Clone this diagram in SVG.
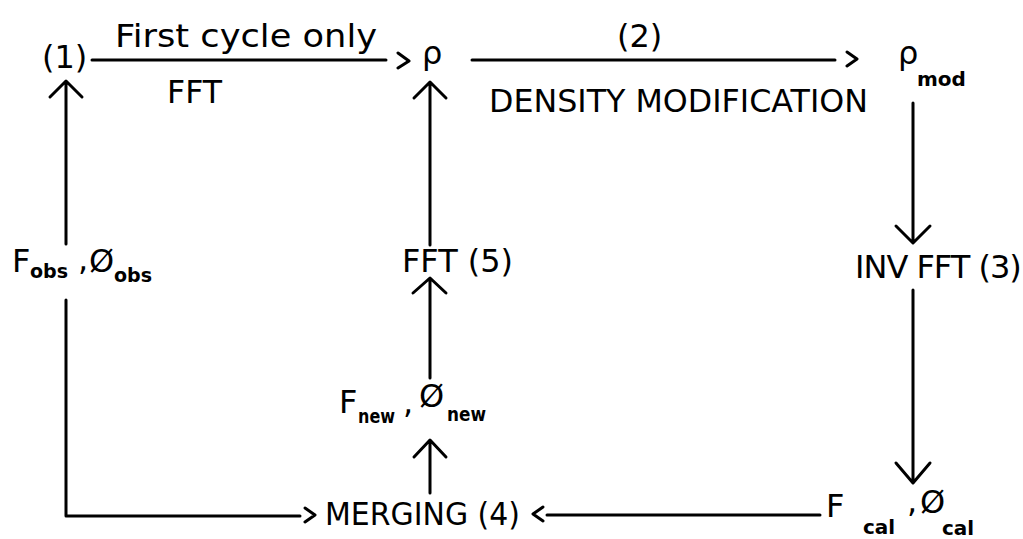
<svg xmlns="http://www.w3.org/2000/svg" width="1023" height="539" viewBox="0 0 1023 539">
<style>
.t{font-family:"DejaVu Sans","Liberation Sans",sans-serif;font-size:32px;fill:#000}
.s{font-family:"DejaVu Sans","Liberation Sans",sans-serif;font-size:20px;font-weight:bold;fill:#000}
.c{fill:none;stroke:#000;stroke-width:3;stroke-linecap:round;stroke-linejoin:round}
</style>
<rect width="1023" height="539" fill="#fff"/>
<g id="connectors" class="c">
<path d="M92 60H386M398 53L409 61L398 68"/>
<path d="M472 60H835M847 52L857 59L847 66"/>
<path d="M66 244V82M50 97L66 81L82 97"/>
<path d="M66 300V516H300M305 508L315 515L305 522"/>
<path d="M430 245V83M414 98L430 82L446 98"/>
<path d="M430 378V279M413 293L430 278L446 293"/>
<path d="M430 493V441M414 457L430 440L446 457"/>
<path d="M913 103V242M896 226L913 243L930 226"/>
<path d="M913 290V482M896 463L913 483L930 463"/>
<path d="M547 515H820M543 507L533 514L543 521"/>
</g>
<g id="n1"><text class="t" x="42" y="68" font-size="30">(1)</text></g>
<g id="label-first"><text class="t" x="115" y="47" font-size="33" textLength="262" lengthAdjust="spacingAndGlyphs">First cycle only</text>
<text class="t" x="167" y="103" textLength="55" lengthAdjust="spacingAndGlyphs">FFT</text></g>
<g id="rho"><text class="t" x="422" y="64" font-size="30">ρ</text></g>
<g id="label-dm"><text class="t" x="617" y="47" font-size="30">(2)</text>
<text class="t" x="489" y="112" font-size="33" textLength="379" lengthAdjust="spacingAndGlyphs">DENSITY MODIFICATION</text></g>
<g id="rhomod"><text class="t" x="898" y="64" font-size="28">ρ</text><text class="s" x="917" y="86">mod</text></g>
<g id="inv"><text class="t" x="855" y="278" font-size="31" letter-spacing="-1">INV FFT (3)</text></g>
<g id="fcal"><text class="t" x="826" y="517" font-size="29">F</text><text class="s" x="863" y="534">cal</text><text class="t" x="907" y="512" font-size="22">,</text><text class="t" x="920" y="513" font-size="25">Ø</text><text class="s" x="942" y="535">cal</text></g>
<g id="merging"><text class="t" x="325" y="525" font-size="34" textLength="195" lengthAdjust="spacingAndGlyphs">MERGING (4)</text></g>
<g id="fnew"><text class="t" x="339" y="413" font-size="26">F</text><text class="s" x="358" y="423" font-size="19" textLength="37" lengthAdjust="spacingAndGlyphs">new</text><text class="t" x="403" y="413" font-size="20">,</text><text class="t" x="419" y="407" font-size="22">Ø</text><text class="s" x="447" y="421" font-size="19" textLength="39" lengthAdjust="spacingAndGlyphs">new</text></g>
<g id="fft5"><text class="t" x="402" y="272" textLength="111" lengthAdjust="spacingAndGlyphs">FFT (5)</text></g>
<g id="fobs"><text class="t" x="12" y="272" font-size="34">F</text><text class="s" x="30" y="278" textLength="38" lengthAdjust="spacingAndGlyphs">obs</text><text class="t" x="78" y="270" font-size="22">,</text><text class="t" x="89" y="272" font-size="25">Ø</text><text class="s" x="114" y="282" textLength="38" lengthAdjust="spacingAndGlyphs">obs</text></g>
</svg>
